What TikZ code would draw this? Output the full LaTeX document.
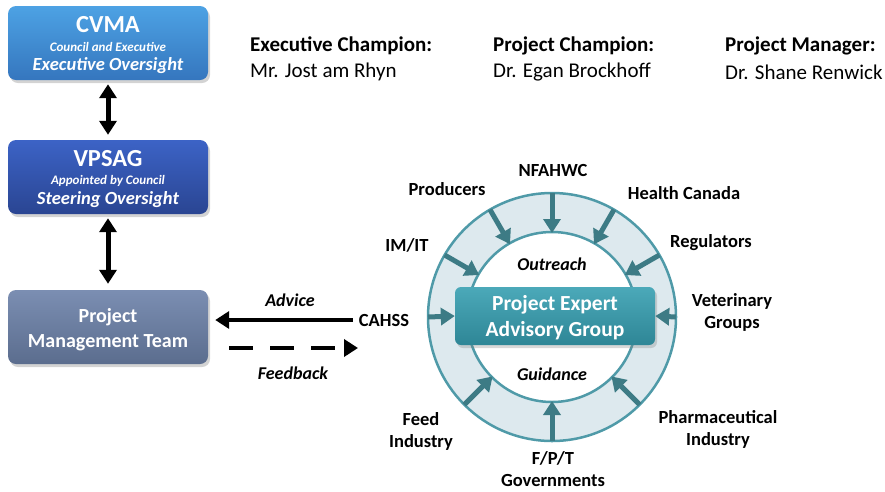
\documentclass[tikz,border=0pt]{standalone}
\usepackage{fontspec}
\setmainfont{Carlito}
\usetikzlibrary{arrows.meta,shadows,calc}
\definecolor{cvmatop}{HTML}{4DA2E4}
\definecolor{cvmabot}{HTML}{3576BE}
\definecolor{vpstop}{HTML}{3C63C6}
\definecolor{vpsbot}{HTML}{2A4592}
\definecolor{pmttop}{HTML}{7B8EB2}
\definecolor{pmtbot}{HTML}{5B6D8E}
\definecolor{peagtop}{HTML}{4BA9B9}
\definecolor{peagbot}{HTML}{2E8696}
\definecolor{ringfill}{HTML}{DDE9EE}
\definecolor{ringline}{HTML}{4F9AA8}
\definecolor{inarrow}{HTML}{3D7B85}
\tikzset{
  box/.style={rounded corners=8pt, minimum width=200pt, minimum height=74pt,
    text=white, align=center, inner sep=0pt,
    drop shadow={opacity=0.35, shadow xshift=2pt, shadow yshift=-3pt}},
  boxtitle/.style={text=white, inner sep=0pt, font=\bfseries\fontsize{24.5}{28}\selectfont},
  boxsub/.style={text=white, inner sep=0pt, font=\bfseries\itshape\fontsize{13}{15}\selectfont},
  boxrole/.style={text=white, inner sep=0pt, font=\bfseries\itshape\fontsize{18.5}{21}\selectfont},
  link/.style={line width=5pt, -{Triangle[width=17pt,length=14pt]}},
  twoway/.style={line width=5pt, {Triangle[width=17pt,length=14pt]}-{Triangle[width=17pt,length=14pt]}},
  feed/.style={line width=5pt, inarrow, -{Triangle[width=17pt,length=14pt]}},
  lbl/.style={font=\bfseries\fontsize{18.5}{22}\selectfont, align=center, inner sep=0pt},
  ital/.style={font=\bfseries\itshape\fontsize{18}{22}\selectfont, inner sep=0pt},
  head/.style={font=\fontsize{21}{24}\selectfont, anchor=west, inner sep=0pt},
}
\begin{document}
\begin{tikzpicture}[x=1pt,y=-1pt]
\useasboundingbox (0,0) rectangle (885,491);
% left column
\node[box, top color=cvmatop, bottom color=cvmabot] (cvma) at (108,43) {};
\node[boxtitle] (cvmat) at (108,25) {CVMA};
\node[boxsub] (cvmas) at (108,47) {Council and Executive};
\node[boxrole] (cvmar) at (108,66) {Executive Oversight};
\node[box, top color=vpstop, bottom color=vpsbot] (vpsag) at (108,177) {};
\node[boxtitle] (vpsagt) at (108,159) {VPSAG};
\node[boxsub] (vpsags) at (108,181) {Appointed by Council};
\node[boxrole] (vpsagr) at (108,200) {Steering Oversight};
\node[box, top color=pmttop, bottom color=pmtbot, font=\bfseries\fontsize{20}{25}\selectfont] (pmt) at (108,327) {};
\node[text=white, align=center, inner sep=0pt, font=\bfseries\fontsize{20}{25}\selectfont] (pmtt) at (108,330)
  {Project\\Management Team};
\draw[twoway] ([yshift=-4pt]cvma.south) -- ([yshift=5pt]vpsag.north);
\draw[twoway] ([yshift=-4pt]vpsag.south) -- ([yshift=6pt]pmt.north);
% header
\node[head, font=\bfseries\fontsize{21}{24}\selectfont] (exect) at (250,46) {Executive Champion:};
\node[head] (execn) at (250,72) {Mr. Jost am Rhyn};
\node[head, font=\bfseries\fontsize{21}{24}\selectfont] (champt) at (493,46) {Project Champion:};
\node[head] (champn) at (493,72) {Dr. Egan Brockhoff};
\node[head, font=\bfseries\fontsize{21}{24}\selectfont] (mgrt) at (725,46) {Project Manager:};
\node[head] (mgrn) at (725,72) {Dr. Shane Renwick};
% ring
\coordinate (c) at (552,317);
\fill[ringfill] (c) circle (124);
\draw[ringline, line width=2.5pt] (c) circle (124);
\draw[ringline, line width=2.5pt, fill=white] (c) circle (85);
\node[rounded corners=6pt, minimum width=200pt, minimum height=58pt, inner sep=0pt,
  top color=peagtop, bottom color=peagbot,
  drop shadow={opacity=0.3, shadow xshift=2pt, shadow yshift=-3pt}] (peag) at (555,316) {};
\node[text=white, align=center, inner sep=0pt, font=\bfseries\fontsize{21.5}{26}\selectfont] (peagt) at (555,318)
  {Project Expert\\Advisory Group};
\node[ital] (outr) at (552,264) {Outreach};
\node[ital] (guid) at (552,374) {Guidance};
\foreach \a in {-30,-60,-90,-120,-150,45,90,135}
  \draw[feed] ($(c)+(\a:124)$) -- ($(c)+(\a:84)$);
\draw[feed] ($(c)+(180:124)$) -- (peag.west);
\draw[feed] ($(c)+(0:124)$) -- (peag.east);
% stakeholders
\node[lbl] (nfa) at (553,170) {NFAHWC};
\node[lbl] (prod) at (447,189) {Producers};
\node[lbl] (hc) at (684,193) {Health Canada};
\node[lbl] (imit) at (407,245) {IM/IT};
\node[lbl] (reg) at (711,243) {Regulators};
\node[lbl] (cahss) at (384,320) {CAHSS};
\node[lbl] (vet) at (732,312) {Veterinary\\Groups};
\node[lbl] (feedi) at (421,431) {Feed\\Industry};
\node[lbl] (fpt) at (553,469) {F/P/T\\Governments};
\node[lbl] (pharma) at (718,429) {Pharmaceutical\\Industry};
% advice and feedback
\draw[link, line width=4pt] ([xshift=-6pt]cahss.west) -- ([xshift=7pt]cahss.west -| pmt.east);
\node[ital] (adv) at (290,300) {Advice};
\coordinate (fbs) at (229,348);
\coordinate (fbe) at (358,348);
\draw[link, line width=4pt, dash pattern=on 24pt off 17pt] (fbs) -- (fbe);
\node[ital] (fb) at (293,373) {Feedback};
\end{tikzpicture}
\end{document}
